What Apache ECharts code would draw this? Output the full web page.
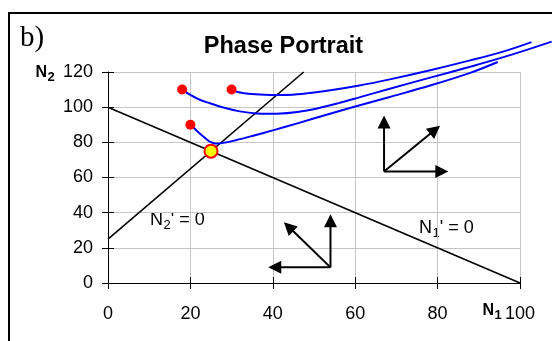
<!DOCTYPE html>
<html>
<head>
<meta charset="utf-8">
<script src="https://cdn.jsdelivr.net/npm/echarts/dist/echarts.min.js"></script>
<style>
html, body { margin: 0; padding: 0; background: #fff; }
#chart { width: 552px; height: 341px; }
</style>
</head>
<body>
<div id="chart"></div>
<script>
// Axis ranges / ticks
const xTicks = [0, 20, 40, 60, 80, 100];
const yTicks = [0, 20, 40, 60, 80, 100, 120];

// Nullclines: N1' = 0 and N2' = 0
const n1Nullcline = [[0, 100], [100, 0]];
const n2Nullcline = [[0, 25], [47.5, 120]];

// Coexistence equilibrium
const equilibrium = [[25, 75]];

// Initial conditions of the three trajectories
const startPoints = [[30, 110], [18, 110], [20, 90]];

// Trajectories (N1, N2)
const trajectoryA = [[30, 110], [31.5, 108.6], [34, 107.6], [38, 107], [42, 106.9], [47, 107.5], [54, 109.6],
  [61, 112.3], [68.4, 115.8], [78.2, 121], [87.9, 126.6], [95.9, 131.6], [102.8, 137]];
const trajectoryB = [[18, 110], [19.9, 107.1], [22, 104.5], [24.8, 102.2], [28, 99.8], [32, 97.6], [36, 96.4],
  [41, 96.3], [46, 97.3], [51, 99.4], [56, 102.3], [61.2, 105.7], [68.4, 110.5], [78.2, 116.8],
  [87.9, 123], [97.6, 129.6], [107.7, 137.3]];
const trajectoryC = [[20.1, 90], [21.6, 86.5], [23.2, 83.2], [24.6, 80.6], [26, 79.4], [28, 79.7], [31, 81.2],
  [35, 83.6], [40, 86.8], [46.6, 91.2], [52, 95], [58.7, 99.5], [68.4, 105.8], [78.2, 112.3],
  [87.9, 119.5], [94.6, 125.7]];
const trajectories = [trajectoryA, trajectoryB, trajectoryC];

// Direction-field arrows: [fromN1, fromN2, toN1, toN2]
const arrowsAbove = [[67, 63.4, 82.6, 63.4], [67, 63.4, 67, 95.2], [67, 63.4, 80.6, 89.5]];
const arrowsBelow = [[54, 8.9, 38.9, 8.9], [54, 8.9, 54, 39.1], [54, 8.9, 42.7, 34.6]];

const FONT = '"Liberation Sans", Arial, Helvetica, sans-serif';
const SERIF = '"Liberation Serif", "Times New Roman", serif';

const measureCtx = document.createElement('canvas').getContext('2d');
function textWidth(str, font) {
  measureCtx.font = font;
  return measureCtx.measureText(str).width;
}

// Text with a lowered subscript: main + sub + rest
function subscriptText(x, y, main, sub, rest, size, subSize, weight, drop) {
  const f1 = weight + ' ' + size + 'px ' + FONT;
  const f2 = weight + ' ' + subSize + 'px ' + FONT;
  const w1 = textWidth(main, f1);
  const w2 = textWidth(sub, f2);
  const st = (text, font) => ({ text: text, font: font, fill: '#000', align: 'left', verticalAlign: 'middle', textAlign: 'left', textVerticalAlign: 'middle' });
  const parts = [
    { type: 'text', x: x, y: y, style: st(main, f1) },
    { type: 'text', x: x + w1 + 0.5, y: y + drop, style: st(sub, f2) }
  ];
  if (rest) {
    parts.push({ type: 'text', x: x + w1 + w2 + 0.5, y: y, style: st(rest, f1) });
  }
  return { type: 'group', silent: true, children: parts };
}

function renderArrow(params, api) {
  const p0 = api.coord([api.value(0), api.value(1)]);
  const p1 = api.coord([api.value(2), api.value(3)]);
  const dx = p1[0] - p0[0], dy = p1[1] - p0[1];
  const len = Math.hypot(dx, dy);
  const ux = dx / len, uy = dy / len;
  const head = 13, half = 6.5;
  const bx = p1[0] - ux * head, by = p1[1] - uy * head;
  return {
    type: 'group',
    children: [
      { type: 'line', shape: { x1: p0[0], y1: p0[1], x2: bx + ux, y2: by + uy }, style: { stroke: '#000', lineWidth: 2 } },
      { type: 'polygon', shape: { points: [[p1[0], p1[1]], [bx - uy * half, by + ux * half], [bx + uy * half, by - ux * half]] }, style: { fill: '#000' } }
    ]
  };
}

// Each data item is the index of one trajectory; its points go through the axes' scales
function renderTrajectory(params, api) {
  const pts = trajectories[api.value(0)].map(p => api.coord(p));
  return {
    type: 'polyline',
    shape: { points: pts, smooth: 0.35 },
    style: { stroke: '#0000ff', lineWidth: 2, fill: 'none' }
  };
}

const baseX = {
  type: 'value', min: xTicks[0], max: xTicks[xTicks.length - 1], interval: 20,
  position: 'bottom', gridIndex: 0
};
const baseY = {
  type: 'value', min: yTicks[0], max: yTicks[yTicks.length - 1], interval: 20,
  position: 'left', gridIndex: 0
};

const chart = echarts.init(document.getElementById('chart'), null, { renderer: 'canvas' });

chart.setOption({
  animation: false,
  backgroundColor: '#fff',
  grid: { left: 108, right: 32, top: 72, bottom: 58, containLabel: false, outerBoundsMode: 'none' },
  xAxis: [
    Object.assign({}, baseX, {
      axisLine: { show: true, onZero: false, lineStyle: { color: '#000', width: 1 } },
      axisTick: { show: true, inside: false, length: 6, lineStyle: { color: '#000', width: 1 } },
      axisLabel: { show: true, margin: 22.5, color: '#000', fontSize: 18, fontFamily: FONT },
      splitLine: { show: true, lineStyle: { color: '#c6c6c6', width: 1 } }
    }),
    Object.assign({}, baseX, {
      axisLine: { show: false },
      axisTick: { show: true, inside: true, length: 6, lineStyle: { color: '#000', width: 1 } },
      axisLabel: { show: false },
      splitLine: { show: false }
    })
  ],
  yAxis: [
    Object.assign({}, baseY, {
      axisLine: { show: true, onZero: false, lineStyle: { color: '#000', width: 1 } },
      axisTick: { show: true, inside: false, length: 6, lineStyle: { color: '#000', width: 1 } },
      axisLabel: { show: true, margin: 15, color: '#000', fontSize: 18, fontFamily: FONT },
      splitLine: { show: true, lineStyle: { color: '#c6c6c6', width: 1 } }
    }),
    Object.assign({}, baseY, {
      axisLine: { show: false },
      axisTick: { show: true, inside: true, length: 6, lineStyle: { color: '#000', width: 1 } },
      axisLabel: { show: false },
      splitLine: { show: false }
    })
  ],
  graphic: [
    { type: 'rect', silent: true, shape: { x: 9, y: 13, width: 620, height: 420 }, style: { fill: 'none', stroke: '#000', lineWidth: 2 } },
    { type: 'text', x: 20, y: 38, style: { text: 'b)', font: '29px ' + SERIF, fill: '#000', align: 'left', verticalAlign: 'middle', textAlign: 'left', textVerticalAlign: 'middle' } },
    { type: 'text', x: 283.5, y: 47, style: { text: 'Phase Portrait', font: 'bold 23.5px ' + FONT, fill: '#000', align: 'center', verticalAlign: 'middle', textAlign: 'center', textVerticalAlign: 'middle' } },
    subscriptText(35.5, 73, 'N', '2', '', 16, 13, 'bold', 4.5),
    subscriptText(482.5, 311, 'N', '1', '', 16, 13, 'bold', 4.5),
    subscriptText(150, 220, 'N', '2', '\' = 0', 18, 13, 'normal', 5),
    subscriptText(419, 228, 'N', '1', '\' = 0', 18, 13, 'normal', 5)
  ],
  series: [
    { type: 'line', name: 'N1 nullcline', data: n1Nullcline, symbol: 'none', clip: false, lineStyle: { color: '#000', width: 1.6 }, z: 3 },
    { type: 'line', name: 'N2 nullcline', data: n2Nullcline, symbol: 'none', clip: false, lineStyle: { color: '#000', width: 1.6 }, z: 3 },
    { type: 'custom', name: 'Trajectories', data: trajectories.map((t, i) => [i]), renderItem: renderTrajectory, clip: false, z: 4 },
    { type: 'custom', name: 'Arrows above', data: arrowsAbove, renderItem: renderArrow, clip: false, z: 5 },
    { type: 'custom', name: 'Arrows below', data: arrowsBelow, renderItem: renderArrow, clip: false, z: 5 },
    { type: 'scatter', name: 'Initial conditions', data: startPoints, symbol: 'circle', symbolSize: 10, itemStyle: { color: '#ff0000', opacity: 1 }, z: 6 },
    { type: 'scatter', name: 'Equilibrium', data: equilibrium, symbol: 'circle', symbolSize: 13, itemStyle: { color: '#ffff00', borderColor: '#ff0000', borderWidth: 2, opacity: 1 }, z: 7 }
  ]
});
</script>
</body>
</html>
